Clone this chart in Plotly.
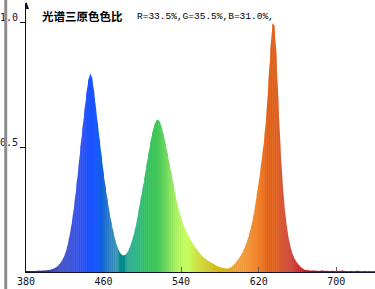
import plotly.graph_objects as go

# Wavelength grid (nm) and relative intensity
wavelengths = list(range(380, 741, 2))
intensity = [
    0.004, 0.004, 0.004, 0.004, 0.004, 0.004, 0.005, 0.005, 0.005, 0.006,  # 380-398
    0.006, 0.007, 0.008, 0.010, 0.013, 0.017, 0.022, 0.030, 0.040, 0.053,  # 400-418
    0.070, 0.095, 0.130, 0.170, 0.220, 0.280, 0.350, 0.420, 0.500, 0.570,  # 420-438
    0.640, 0.710, 0.765, 0.795, 0.775, 0.720, 0.650, 0.585, 0.520, 0.455,  # 440-458
    0.390, 0.335, 0.285, 0.235, 0.195, 0.158, 0.125, 0.100, 0.082, 0.070,  # 460-478
    0.066, 0.068, 0.076, 0.090, 0.110, 0.135, 0.165, 0.200, 0.245, 0.290,  # 480-498
    0.330, 0.375, 0.425, 0.470, 0.515, 0.555, 0.585, 0.605, 0.610, 0.600,  # 500-518
    0.575, 0.545, 0.510, 0.470, 0.430, 0.390, 0.350, 0.305, 0.270, 0.240,  # 520-538
    0.215, 0.190, 0.170, 0.155, 0.140, 0.125, 0.112, 0.100, 0.090, 0.080,  # 540-558
    0.070, 0.062, 0.055, 0.049, 0.044, 0.039, 0.035, 0.030, 0.026, 0.022,  # 560-578
    0.019, 0.017, 0.015, 0.014, 0.014, 0.016, 0.021, 0.028, 0.037, 0.047,  # 580-598
    0.058, 0.070, 0.085, 0.103, 0.125, 0.150, 0.180, 0.215, 0.260, 0.310,  # 600-618
    0.360, 0.420, 0.480, 0.550, 0.640, 0.765, 0.890, 0.995, 0.985, 0.875,  # 620-638
    0.690, 0.515, 0.380, 0.280, 0.205, 0.150, 0.110, 0.080, 0.060, 0.045,  # 640-658
    0.034, 0.025, 0.017, 0.011, 0.008,                                      # 660-668
    0.007, 0.006, 0.005, 0.006, 0.005, 0.005, 0.004, 0.005, 0.006, 0.004,  # 670-688
    0.005, 0.004, 0.004, 0.005, 0.004, 0.004, 0.005, 0.004, 0.006, 0.004,  # 690-708
    0.004, 0.003, 0.004, 0.004, 0.003, 0.004, 0.005, 0.004, 0.003, 0.004,  # 710-728
    0.004, 0.003, 0.004, 0.003, 0.003, 0.004,                              # 730-740
]

x_ticks = [380, 460, 540, 620, 700]
y_ticks = [0.5, 1.0]
y_tick_text = ["0.5", "1.0"]
title_cn = "光谱三原色色比"
ratio_text = "R=33.5%,G=35.5%,B=31.0%,"

# colour anchors along the spectrum (style)
anchors = [
    (380, "#1c1c7a"), (404, "#2830a0"), (414, "#4858c8"), (426, "#4058d8"),
    (436, "#3050f0"), (444, "#1a50ff"), (452, "#1a58ff"), (458, "#1060e0"),
    (466, "#2a7cc0"), (474, "#3a98b0"), (477, "#008a8a"), (481, "#008a8a"),
    (484, "#38aa98"), (494, "#30b888"), (504, "#30c060"), (516, "#44c858"),
    (526, "#78dc60"), (536, "#b0f060"), (546, "#c8ff60"), (556, "#cce448"),
    (566, "#d0cc28"), (578, "#d4b814"), (590, "#dcb010"), (596, "#f0a040"),
    (610, "#f09438"), (622, "#f07c28"), (630, "#e25c10"), (638, "#e06018"),
    (644, "#d85838"), (654, "#d04c40"), (664, "#c82020"), (672, "#c00000"),
    (740, "#c00000"),
]


def hex2rgb(h):
    h = h.lstrip("#")
    return tuple(int(h[i:i + 2], 16) for i in (0, 2, 4))


def color_at(w):
    for (w0, c0), (w1, c1) in zip(anchors[:-1], anchors[1:]):
        if w0 <= w <= w1:
            t = 0 if w1 == w0 else (w - w0) / (w1 - w0)
            a, b = hex2rgb(c0), hex2rgb(c1)
            r = [round(a[i] + (b[i] - a[i]) * t) for i in range(3)]
            return "rgb(%d,%d,%d)" % tuple(r)
    return anchors[-1][1]


W, H = 375, 289
L, R, T, B = 22, 0, 3, 17
pw, ph = W - L - R, H - T - B
y_top = ph / 250.0

fig = go.Figure()
# one filled slice per wavelength step, coloured by its wavelength
overlap = 0.45
for i in range(len(wavelengths) - 1):
    w0, w1 = wavelengths[i], wavelengths[i + 1]
    v0, v1 = intensity[i], intensity[i + 1]
    fig.add_trace(go.Scatter(
        x=[w0, w0, w1 + overlap, w1 + overlap],
        y=[0, v0, v1, 0],
        mode="lines", fill="toself", line=dict(width=0),
        fillcolor=color_at((w0 + w1) / 2), hoverinfo="skip",
    ))

fig.update_layout(
    width=W, height=H,
    margin=dict(l=L, r=R, t=T, b=B, pad=0),
    paper_bgcolor="white", plot_bgcolor="white",
    showlegend=False,
    xaxis=dict(
        range=[380, 740], tickvals=x_ticks, ticktext=[str(v) for v in x_ticks],
        ticks="inside", ticklen=5, tickcolor="#606060", tickwidth=1,
        showline=True, linecolor="#101030", linewidth=1,
        showgrid=False, zeroline=False, layer="above traces",
        tickfont=dict(family="DejaVu Sans Mono", size=10, color="#101020"),
    ),
    yaxis=dict(
        range=[0, y_top], tickvals=y_ticks, ticktext=y_tick_text,
        ticks="outside", ticklen=5, tickcolor="#101010", tickwidth=1,
        showline=True, linecolor="#101010", linewidth=1,
        showgrid=False, zeroline=False, ticklabelshift=-5, ticklabelstandoff=0,
        tickfont=dict(family="DejaVu Sans Mono", size=10, color="#10104a"),
    ),
    shapes=[
        dict(type="rect", xref="paper", yref="paper",
             x0=-L / pw, x1=-(L - 3) / pw, y0=-B / ph, y1=1 + T / ph,
             fillcolor="#8c8c8c", line=dict(width=0), layer="above"),
        dict(type="path", xref="x", yref="paper", xsizemode="pixel", ysizemode="pixel",
             xanchor=380, yanchor=1, path="M0.5,1 L-2,-6 L3,-6 Z",
             fillcolor="#101010", line=dict(width=0), layer="above"),
    ],
    annotations=[
        dict(x=(36 - L) / pw, y=(272 - 16) / ph, xref="paper", yref="paper",
             xanchor="left", yanchor="middle", showarrow=False, text="<b>%s</b>" % title_cn,
             font=dict(family="Noto Sans CJK SC", size=11.5, color="#000000")),
        dict(x=(132 - L) / pw, y=(272 - 16) / ph, xref="paper", yref="paper",
             xanchor="left", yanchor="middle", showarrow=False, text=ratio_text,
             font=dict(family="Liberation Mono", size=9.5, color="#000000")),
    ],
)

fig.write_html("out.html")
